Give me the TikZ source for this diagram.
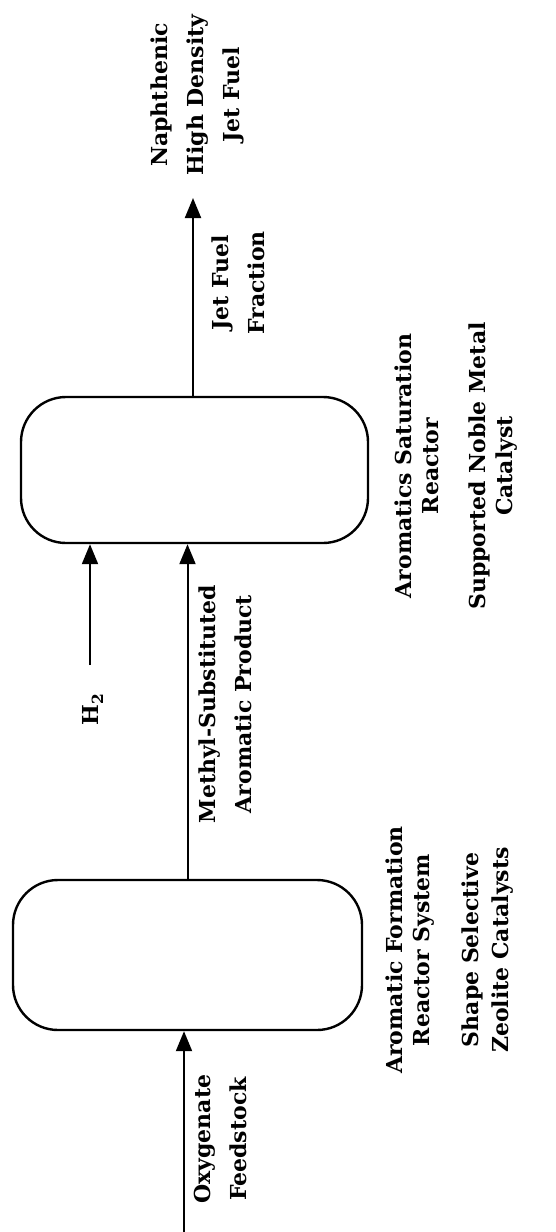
\documentclass[tikz,border=0pt]{standalone}
\usepackage{fontspec}
\setmainfont{DejaVu Serif}
\usetikzlibrary{arrows.meta}
\tikzset{
  reactor/.style={draw, line width=2.4pt, rounded corners=45pt, inner sep=0pt},
  flow/.style={line width=2pt, -{Triangle[length=20pt,width=16pt]}},
  lbl/.style={rotate=90, align=center, inner sep=0pt, font=\bfseries\fontsize{22}{36}\selectfont},
  lbltight/.style={lbl, font=\bfseries\fontsize{22}{27}\selectfont},
}
\begin{document}
\begin{tikzpicture}[x=1pt,y=-1pt]
\useasboundingbox (0,0) rectangle (556,1232);
% reactors
\node[reactor, minimum width=349pt, minimum height=150pt] (r1) at (187.5,955) {};
\node[reactor, minimum width=347pt, minimum height=146pt] (r2) at (194.5,470) {};
% free ends
\coordinate (feedin) at (184,1232);
\coordinate (h2in) at (90,665);
\coordinate (out) at (193,198);
% connectors
\draw[flow] (feedin) -- (feedin |- r1.south);
\draw[flow] (r1.north) -- (r1.north |- r2.south);
\draw[flow] (h2in) -- (h2in |- r2.south);
\draw[flow] (r2.north -| out) -- (out);
% labels
\node[lbl] (prod) at (197,95) {Naphthenic\\High Density\\Jet Fuel};
\node[lbl] (jff) at (238,283) {Jet Fuel\\Fraction};
\node[lbltight] (asr) at (417,466) {Aromatics Saturation\\Reactor};
\node[lbltight] (snm) at (493,466) {Supported Noble Metal\\Catalyst};
\node[lbl] (h2) at (93,709) {H$_{\mathbf 2}$};
\node[lbl] (map) at (225,704) {Methyl-Substituted\\Aromatic Product};
\node[lbltight] (afr) at (410,950) {Aromatic Formation\\Reactor System};
\node[lbl, font=\bfseries\fontsize{22}{30}\selectfont] (ssz) at (488,950) {Shape Selective\\Zeolite Catalysts};
\node[lbl] (oxf) at (220,1139) {Oxygenate\\Feedstock};
\end{tikzpicture}
\end{document}
